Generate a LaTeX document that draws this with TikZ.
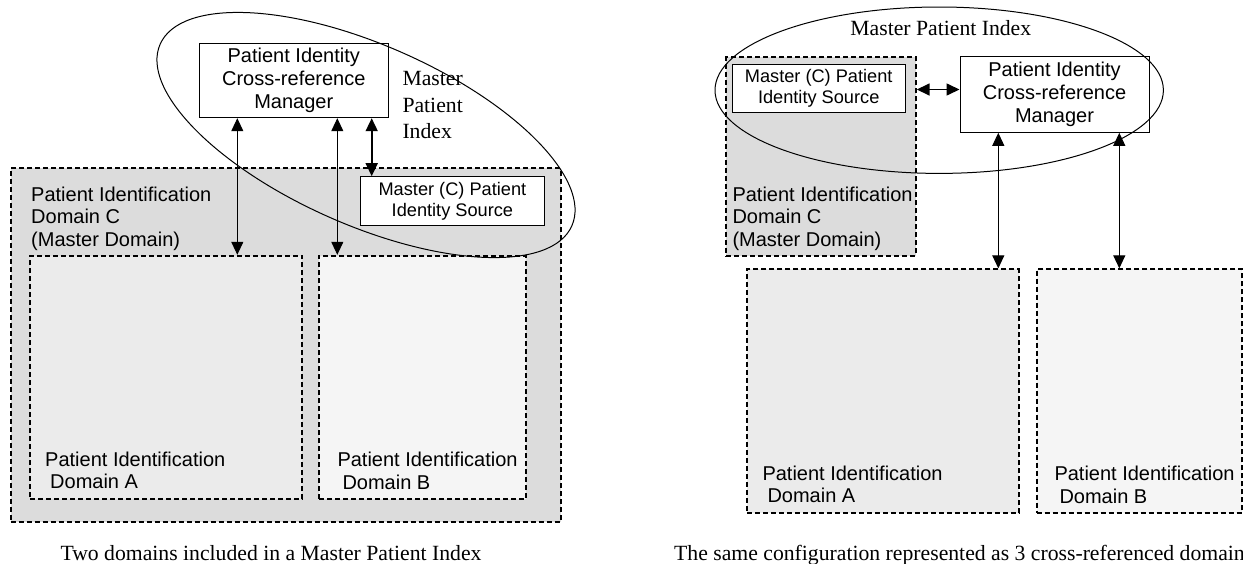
\documentclass[tikz,border=0pt]{standalone}
\usepackage{fontspec}
\setmainfont{Liberation Serif}
\newfontfamily\sansf{Liberation Sans}
\usetikzlibrary{arrows.meta}
\definecolor{domCgray}{HTML}{DCDCDC}
\definecolor{domAgray}{HTML}{EBEBEB}
\definecolor{domBgray}{HTML}{F5F5F5}
\tikzset{
  solidbox/.style={draw, line width=1pt, fill=white, inner sep=0pt, align=center,
    font=\sansf\fontsize{20pt}{22.7pt}\selectfont},
  srcbox/.style={solidbox, font=\sansf\fontsize{18.2pt}{20.6pt}\selectfont},
  dombox/.style={draw, line width=1.9pt, dash pattern=on 5pt off 3pt, inner sep=0pt},
  sanslabel/.style={inner sep=0pt, anchor=north west, align=left,
    font=\sansf\fontsize{20pt}{22.7pt}\selectfont},
  seriflabel/.style={inner sep=0pt, font=\fontsize{21.7pt}{26.3pt}\selectfont},
  dbl/.style={{Triangle[length=13pt,width=12pt]}-{Triangle[length=13pt,width=12pt]}, line width=1pt},
  dblthick/.style={dbl, line width=1.6pt},
  mpi/.style={line width=1pt},
}
\begin{document}
\begin{tikzpicture}[x=1pt,y=-1pt]
\clip (0,0) rectangle (1243,563);
\fill[white] (0,0) rectangle (1243,563);

% ---------------- left panel ----------------
\node[dombox, fill=domCgray, minimum width=550pt, minimum height=353.4pt] (domC) at (285.7,345) {};
\node[dombox, fill=domAgray, minimum width=272.3pt, minimum height=243.3pt] (domA) at (166.2,377.4) {};
\node[dombox, fill=domBgray, minimum width=207pt, minimum height=243.3pt] (domB) at (422.5,377.4) {};
\node[srcbox, minimum width=183.3pt, minimum height=49pt] (src) at (452.4,201.2) {Master (C) Patient\\Identity Source};
\node[solidbox, minimum width=189pt, minimum height=74.4pt] (mgr) at (293.8,80.5) {Patient Identity\\Cross-reference\\Manager};

\node[sanslabel] (domCtxt) at (31,186.5) {Patient Identification\\Domain C\\(Master Domain)};
\node[sanslabel] (domAtxt) at (45,451.5) {Patient Identification\\\hspace*{5pt}Domain A};
\node[sanslabel] (domBtxt) at (337.3,452.2) {Patient Identification\\\hspace*{5pt}Domain B};
\node[seriflabel, anchor=north west, align=left] (mpiL) at (402.3,71.5) {Master\\Patient\\Index};

\coordinate (xa) at (237.3,0);
\coordinate (xb) at (337.3,0);
\coordinate (xc) at (371.7,0);
\draw[dbl] (xa |- mgr.south) -- (xa |- domA.north);
\draw[dbl] (xb |- mgr.south) -- (xb |- domB.north);
\draw[dblthick] (xc |- mgr.south) -- (xc |- src.north);

\draw[mpi, rotate around={-23.8:(366,135)}] (366,135) ellipse [x radius=225pt, y radius=90pt];

\node[seriflabel, anchor=base] (capL) at (271,560) {Two domains included in a Master Patient Index};

% ---------------- right panel ----------------
\node[dombox, fill=domCgray, minimum width=189.7pt, minimum height=198.4pt] (domC2) at (820.9,156.5) {};
\node[srcbox, minimum width=172.7pt, minimum height=48.7pt] (src2) at (818.7,88.4) {Master (C) Patient\\Identity Source};
\node[solidbox, minimum width=189pt, minimum height=75.6pt] (mgr2) at (1054.5,94.5) {Patient Identity\\Cross-reference\\Manager};
\node[dombox, fill=domAgray, minimum width=272pt, minimum height=243.4pt] (domA2) at (883,391) {};
\node[dombox, fill=domBgray, minimum width=205.6pt, minimum height=243.4pt] (domB2) at (1139.5,391) {};

\node[sanslabel] (domC2txt) at (732.3,186.5) {Patient Identification\\Domain C\\(Master Domain)};
\node[sanslabel] (domA2txt) at (762.3,465.5) {Patient Identification\\\hspace*{5pt}Domain A};
\node[sanslabel] (domB2txt) at (1054.3,465.8) {Patient Identification\\\hspace*{5pt}Domain B};
\node[seriflabel, anchor=north] (mpiR) at (940.8,20.3) {Master Patient Index};

\coordinate (yh) at (0,89.5);
\coordinate (xd) at (998.3,0);
\coordinate (xe) at (1119.3,0);
\draw[dblthick] (yh -| domC2.east) -- (yh -| mgr2.west);
\draw[dbl] (xd |- mgr2.south) -- (xd |- domA2.north);
\draw[dbl] (xe |- mgr2.south) -- (xe |- domB2.north);

\draw[mpi] (939.2,90.2) ellipse [x radius=224.2pt, y radius=83.2pt];

\node[seriflabel, anchor=base west] (capR) at (674,560) {The same configuration represented as 3 cross-referenced domains};
\end{tikzpicture}
\end{document}
